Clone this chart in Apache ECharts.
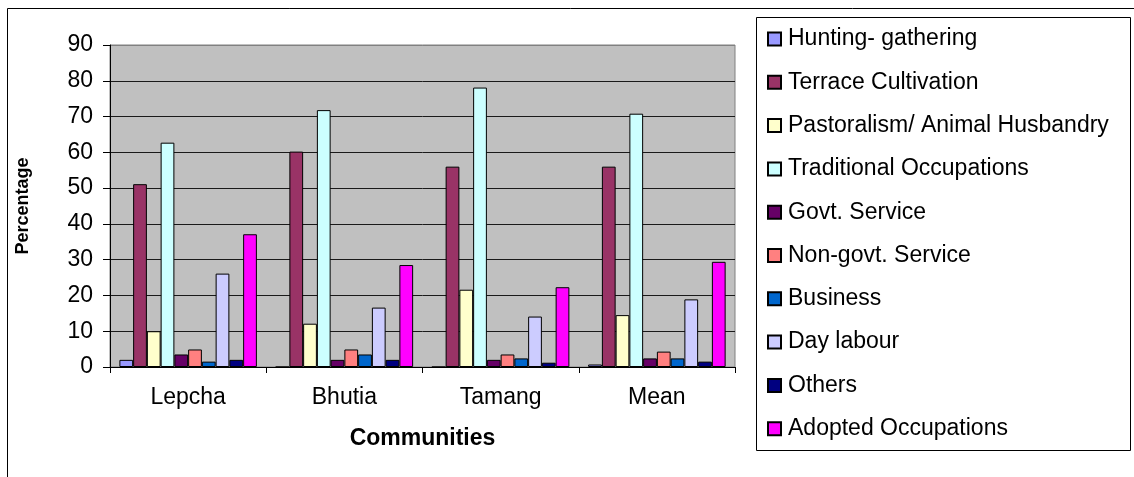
<!DOCTYPE html>
<html>
<head>
<meta charset="utf-8">
<script src="https://cdn.jsdelivr.net/npm/echarts@6/dist/echarts.min.js"></script>
<style>
  html, body { margin: 0; padding: 0; background: #fff; }
  #chart { width: 1134px; height: 477px; }
</style>
</head>
<body>
<div id="chart"></div>
<script>
// Occupational distribution (%) by community
const communities = ['Lepcha', 'Bhutia', 'Tamang', 'Mean'];
const occupations = [
  'Hunting- gathering',
  'Terrace Cultivation',
  'Pastoralism/ Animal Husbandry',
  'Traditional Occupations',
  'Govt. Service',
  'Non-govt. Service',
  'Business',
  'Day labour',
  'Others',
  'Adopted Occupations'
];
const huntingGathering     = [2.0, 0, 0, 0.7];
const terraceCultivation   = [51.1, 60.2, 56.0, 56.0];
const pastoralism          = [10.0, 12.1, 21.6, 14.5];
const traditionalOccup     = [62.7, 71.8, 78.1, 70.8];
const govtService          = [3.5, 2.0, 2.0, 2.4];
const nonGovtService       = [4.9, 4.9, 3.5, 4.3];
const business             = [1.5, 3.5, 2.4, 2.4];
const dayLabour            = [26.1, 16.6, 14.1, 18.9];
const others               = [2.0, 2.0, 1.2, 1.5];
const adoptedOccup         = [37.1, 28.5, 22.3, 29.4];
const yTicks = [0, 10, 20, 30, 40, 50, 60, 70, 80, 90];

const seriesValues = [
  huntingGathering, terraceCultivation, pastoralism, traditionalOccup,
  govtService, nonGovtService, business, dayLabour, others, adoptedOccup
];
const colors = ['#9999FF', '#993366', '#FFFFCC', '#CCFFFF', '#660066',
                '#FF8080', '#0066CC', '#CCCCFF', '#000080', '#FF00FF'];

const FONT = "'Liberation Sans', Arial, sans-serif";

const chart = echarts.init(document.getElementById('chart'), null, { renderer: 'canvas' });

// grid lines dark, the top one (plot frame) grey
const splitColors = yTicks.map((v, i) => i === yTicks.length - 1 ? '#808080' : '#1a1a1a');

chart.setOption({
  animation: false,
  backgroundColor: '#ffffff',
  color: colors,
  grid: {
    left: 110, top: 45, width: 625, height: 322,
    show: true, backgroundColor: '#C0C0C0',
    borderColor: '#808080', borderWidth: 1
  },
  legend: {
    orient: 'vertical',
    left: 767, top: 27,
    padding: 0,
    itemWidth: 13, itemHeight: 13,
    itemGap: 19.3,
    icon: 'rect',
    textStyle: { fontFamily: FONT, fontSize: 23, lineHeight: 24, color: '#000', padding: [0, 0, 0, 2] },
    data: occupations
  },
  xAxis: {
    type: 'category',
    data: communities,
    boundaryGap: true,
    axisLine: { lineStyle: { color: '#000', width: 1 } },
    axisTick: { show: true, length: 6, lineStyle: { color: '#000' } },
    axisLabel: { fontFamily: FONT, fontSize: 23, color: '#000', margin: 19 },
    name: 'Communities',
    nameLocation: 'middle',
    nameGap: 60,
    nameTextStyle: { fontFamily: FONT, fontSize: 23, fontWeight: 'bold', color: '#000' }
  },
  yAxis: {
    type: 'value',
    min: 0, max: 90, interval: 10,
    axisLine: { show: true, lineStyle: { color: '#000', width: 1 } },
    axisTick: { show: true, length: 7, lineStyle: { color: '#000' } },
    axisLabel: { fontFamily: FONT, fontSize: 23, color: '#000', margin: 17 },
    splitLine: { show: true, lineStyle: { color: splitColors, width: 1 } },
    name: 'Percentage',
    nameLocation: 'middle',
    nameGap: 78,
    nameRotate: 90,
    nameTextStyle: { fontFamily: FONT, fontSize: 18, fontWeight: 'bold', color: '#000' }
  },
  series: occupations.map((name, i) => ({
    name: name,
    type: 'bar',
    data: seriesValues[i],
    barGap: '0%',
    barCategoryGap: '12%',
    itemStyle: { color: colors[i], borderColor: '#000', borderWidth: 1 }
  })),
  graphic: [
    // outer chart frame
    { type: 'polyline', shape: { points: [[7.5, 477], [7.5, 8.5], [1134, 8.5]] },
      style: { stroke: '#000', lineWidth: 1, fill: null }, silent: true },
    // legend frame
    { type: 'rect', shape: { x: 756.5, y: 17.5, width: 374, height: 433 },
      style: { stroke: '#000', lineWidth: 1, fill: null }, silent: true, z: -1 }
  ]
});
</script>
</body>
</html>
